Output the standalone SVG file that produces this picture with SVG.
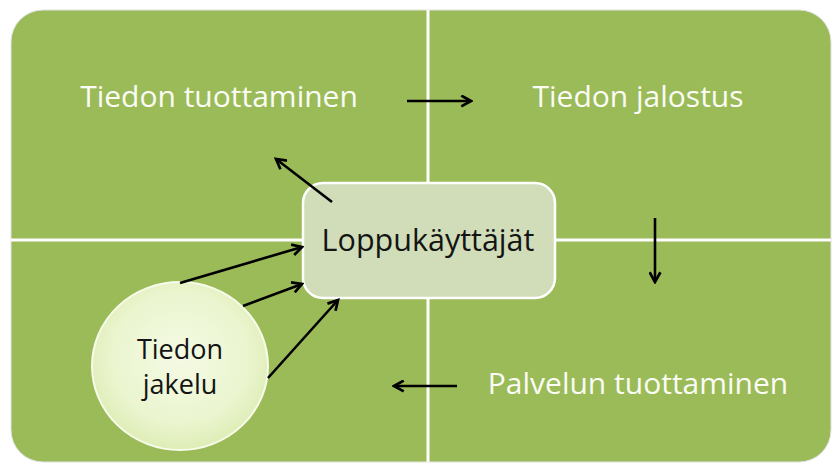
<svg xmlns="http://www.w3.org/2000/svg" width="834" height="464" viewBox="0 0 834 464">
  <style>
    .lbl { font-family: "Open Sans", "Liberation Sans", sans-serif; }
    .light { fill: #FAFCF5; font-size: 30px; }
    .dark { fill: #141414; }
    .conn { stroke: #000; stroke-width: 2.6; fill: none; marker-end: url(#head); }
    .divider { stroke: #FFFFFF; stroke-width: 3; }
  </style>
  <defs>
    <marker id="head" viewBox="0 0 12 12" refX="10" refY="6" markerWidth="13" markerHeight="13" markerUnits="userSpaceOnUse" orient="auto">
      <path d="M1,1 L10,6 L1,11" fill="none" stroke="#000" stroke-width="2.5" stroke-linejoin="miter"/>
    </marker>
    <radialGradient id="discFill" cx="0.5" cy="0.45" r="0.55">
      <stop offset="0" stop-color="#F4FAE4"/>
      <stop offset="0.7" stop-color="#EBF5CF"/>
      <stop offset="1" stop-color="#DEEDB6"/>
    </radialGradient>
  </defs>

  <rect width="834" height="464" fill="#FFFFFF"/>

  <!-- background panel split into four quadrants -->
  <g id="panel">
    <rect x="11" y="10" width="820" height="452" rx="32" ry="32" fill="#9BBB59" stroke="#E2E2E2" stroke-width="1"/>
    <line class="divider" x1="11" y1="240" x2="831" y2="240"/>
    <line class="divider" x1="428" y1="10" x2="428" y2="462"/>
  </g>

  <g id="q-tuottaminen">
    <text class="lbl light" x="219" y="107" text-anchor="middle">Tiedon tuottaminen</text>
  </g>
  <g id="q-jalostus">
    <text class="lbl light" x="638" y="107" text-anchor="middle">Tiedon jalostus</text>
  </g>
  <g id="q-palvelu">
    <text class="lbl light" x="638" y="394" text-anchor="middle">Palvelun tuottaminen</text>
  </g>

  <g id="loppukayttajat">
    <rect x="303" y="183" width="252" height="115" rx="20" ry="20" fill="#D0DDB8" stroke="#FFFFFF" stroke-width="2.5"/>
    <text class="lbl dark" x="428" y="251" text-anchor="middle" font-size="30.5">Loppukäyttäjät</text>
  </g>

  <g id="tiedon-jakelu">
    <ellipse cx="180" cy="366" rx="88" ry="84" fill="url(#discFill)" stroke="#F6FBEA" stroke-width="2"/>
    <text class="lbl dark" x="180" y="359" text-anchor="middle" font-size="27">Tiedon</text>
    <text class="lbl dark" x="180" y="394" text-anchor="middle" font-size="27">jakelu</text>
  </g>

  <g id="connectors">
    <line class="conn" x1="407" y1="101" x2="471" y2="101"/>
    <line class="conn" x1="655" y1="218" x2="655" y2="282"/>
    <line class="conn" x1="457" y1="386" x2="394" y2="386"/>
    <line class="conn" x1="332" y1="202" x2="276" y2="159"/>
    <line class="conn" x1="180" y1="283" x2="302" y2="247"/>
    <line class="conn" x1="243" y1="306" x2="302" y2="284"/>
    <line class="conn" x1="268" y1="378" x2="338" y2="300"/>
  </g>
</svg>
